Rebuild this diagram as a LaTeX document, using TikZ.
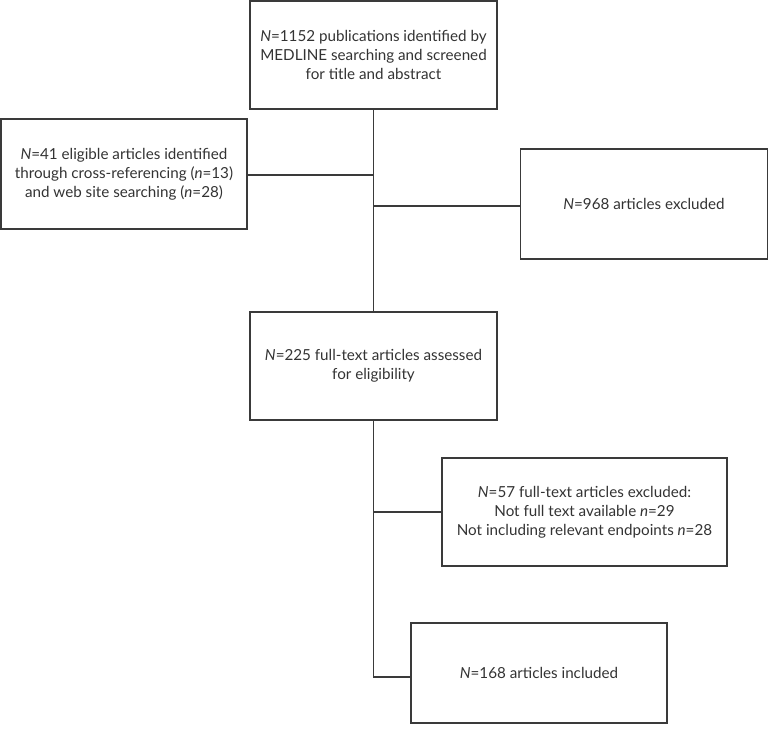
\documentclass[tikz,border=0pt]{standalone}
\usepackage{fontspec}
\setmainfont{Lato}
\definecolor{lc}{HTML}{3A3A3A}
\definecolor{tc}{HTML}{333333}
\begin{document}
\begin{tikzpicture}[x=1pt,y=-1pt,
  box/.style={draw=lc,line width=1.3pt,rectangle,align=center,inner sep=0pt,
    font=\fontsize{15.2}{19.2}\selectfont,text=tc},
  conn/.style={draw=lc,line width=1.3pt}]
\useasboundingbox (0,0) rectangle (769,733);
\node[box,minimum width=247pt,minimum height=108pt] (b1) at (373.5,55)
  {\textit{N}=1152 publications identified by\\MEDLINE searching and screened\\for title and abstract};
\node[box,minimum width=246pt,minimum height=110pt] (b2) at (124,174)
  {\textit{N}=41 eligible articles identified\\through cross-referencing (\textit{n}=13)\\and web site searching (\textit{n}=28)};
\node[box,minimum width=247pt,minimum height=110pt] (b3) at (644,204)
  {\textit{N}=968 articles excluded};
\node[box,minimum width=247pt,minimum height=108pt] (b4) at (373.5,366)
  {\textit{N}=225 full-text articles assessed\\for eligibility};
\node[box,minimum width=285pt,minimum height=108pt] (b5) at (584.5,512)
  {\textit{N}=57 full-text articles excluded:\\Not full text available \textit{n}=29\\Not including relevant endpoints \textit{n}=28};
\node[box,minimum width=256pt,minimum height=100pt] (b6) at (539,673)
  {\textit{N}=168 articles included};
\coordinate (j2) at (373.5,175);
\coordinate (j3) at (373.5,206);
\coordinate (j5) at (373.5,512);
\coordinate (j6) at (373.5,677);
\draw[conn] (b1.south) -- (b4.north);
\draw[conn] (b2.east |- j2) -- (j2);
\draw[conn] (j3) -- (b3.west |- j3);
\draw[conn] (b4.south) -- (j6) -- (b6.west |- j6);
\draw[conn] (j5) -- (b5.west |- j5);
\end{tikzpicture}
\end{document}
